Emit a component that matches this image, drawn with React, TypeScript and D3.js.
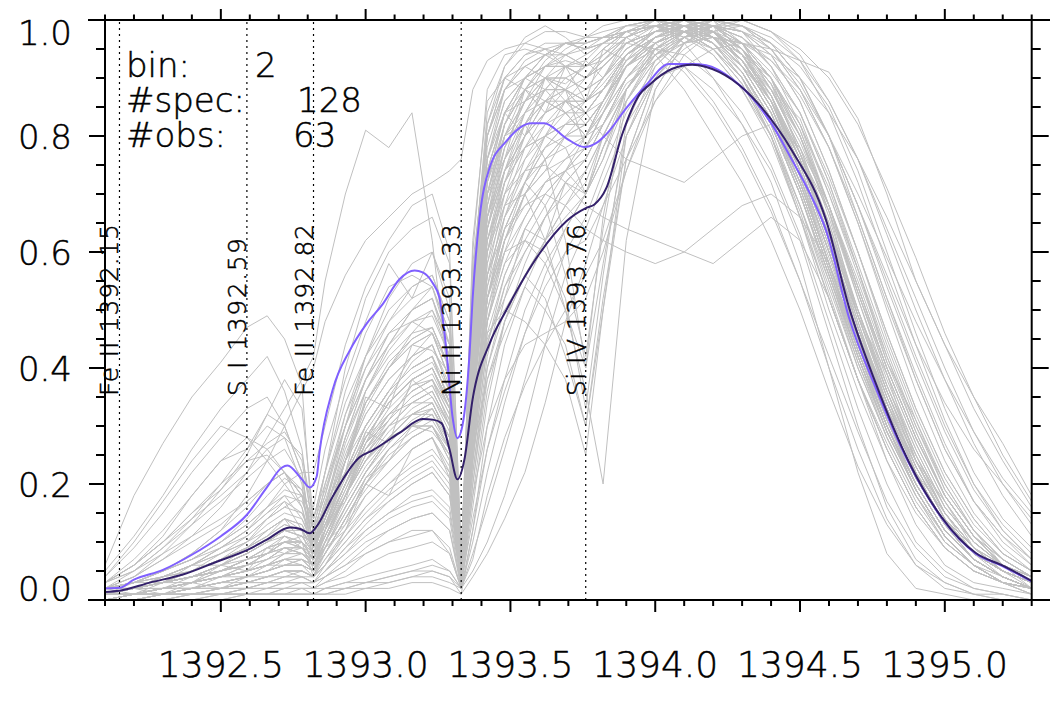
import { useEffect, useRef } from "react";
import * as d3 from "d3";

// wavelength grid (Angstrom) of the individual spectra
const WAVE = [
  1392.10, 1392.20, 1392.30, 1392.40, 1392.50, 1392.59, 1392.66, 1392.72, 1392.78,
  1392.82, 1392.86, 1392.93, 1393.00, 1393.08, 1393.16, 1393.23, 1393.29,
  1393.33, 1393.37, 1393.42, 1393.48, 1393.55, 1393.62, 1393.69, 1393.76, 1393.82, 1393.90,
  1394.00, 1394.10, 1394.20, 1394.30, 1394.40, 1394.50, 1394.60, 1394.70, 1394.80, 1394.90,
  1395.00, 1395.10, 1395.20, 1395.30,
];

// normalised intensity of each spectrum, in percent
const SPECTRA: number[][] = [
  [1,1,2,2,3,4,5,6,7, 5,8,14,20,26,30,33,28, 4,30,52,62,70,76,80,82,86,92, 96,98,97,93,86,74,60,44,30,19,11,6,3,2],
  [2,2,3,4,5,7,9,11,10, 7,12,20,28,34,38,40,34, 3,38,62,72,78,80,78,70,76,88, 95,99,100,96,88,78,64,48,34,22,13,8,5,3],
  [6,18,27,35,41,47,49,45,37, 10,20,30,38,44,50,52,42, 6,40,66,76,82,86,88,84,88,94, 98,100,98,94,86,76,64,50,36,24,15,9,6,4],
  [4,9,15,22,28,33,35,30,22, 8,14,24,34,40,46,50,44, 5,45,70,80,86,90,88,78,82,90, 96,98,96,90,80,66,52,38,26,16,9,5,3,2],
  [3,6,11,18,24,26,30,28,20, 6,10,18,26,32,36,38,30, 3,28,50,60,66,72,74,70,78,88, 94,97,98,95,89,80,68,54,40,28,18,11,7,4],
  [0,0,1,1,1,2,2,3,3, 3,6,12,18,22,26,28,22, 3,20,38,48,56,62,66,70,76,86, 93,97,99,98,94,86,74,60,45,32,21,13,8,5],
  [0,0,0,0,1,1,1,1,1, 1,1,2,2,3,4,5,4, 2,8,16,26,38,50,60,66,74,84, 92,97,100,99,95,88,78,65,50,36,24,15,9,5],
  [2,4,7,11,16,22,28,33,38, 42,55,70,81,78,84,62,36, 8,52,80,90,94,95,94,92,95,98, 99,98,95,90,82,70,56,42,30,20,12,7,4,2],
  [1,3,5,8,12,18,24,30,36, 40,48,56,62,66,70,72,74, 76,88,93,95,96,95,92,90,93,97, 99,100,98,95,90,82,70,56,42,30,20,12,7,4],
  [2,3,5,7,10,13,16,18,14, 9,14,24,32,38,42,44,36, 4,34,58,68,74,78,80,80,84,92, 97,99,98,94,87,76,62,47,34,23,14,8,5,3],
  [0,1,1,2,2,3,3,4,4, 3,5,9,13,17,20,22,18, 3,14,26,36,46,54,60,62,68,76, 86,92,95,96,95,93,91,83,70,55,44,35,27,18],
  [3,5,8,11,14,17,20,22,18, 10,16,28,38,46,50,52,44, 5,50,78,88,92,94,96,95,96,98, 99,96,90,82,72,58,40,22,8,2,1,0,0,0],
  [1,1,2,3,4,5,6,8,8, 6,10,18,24,30,34,36,30, 4,30,46,50,48,44,38,25,50,80, 92,97,98,94,86,74,60,45,32,21,13,8,5,3],
  [1,2,3,4,6,8,10,12,11, 8,12,22,30,36,40,42,36, 4,32,52,60,62,58,50,36,20,62, 88,96,99,96,90,80,66,50,36,24,15,9,6,3],
  [0,1,1,2,3,4,5,6,6, 5,8,14,20,25,28,30,26, 3,26,48,58,62,60,52,33,56,82, 93,98,99,95,87,76,62,47,33,22,13,8,5,3],
  [0,0,1,1,1,1,2,2,2, 2,3,5,8,10,12,12,8, 2,7,18,28,37,44,50,56,62,74, 86,94,98,99,96,90,80,66,52,38,26,17,11,7],
  [2,2,4,5,7,9,11,13,12, 8,12,20,28,34,38,40,33, 4,36,60,72,80,86,88,86,90,96, 99,100,97,91,82,70,55,40,28,18,10,6,3,2],
  [3,6,10,15,20,24,27,29,24, 12,18,32,42,50,54,56,48, 6,46,72,82,88,90,90,88,90,94, 97,99,98,93,85,74,60,45,32,21,13,7,4,2],
  [1,1,2,2,3,4,4,5,5, 4,7,12,16,20,24,26,22, 3,24,44,54,60,66,72,76,82,90, 96,99,99,96,90,80,67,52,38,26,16,10,6,3],
  [1,2,3,4,5,7,8,10,9, 6,10,18,25,30,34,36,30, 4,40,62,70,74,75,72,68,66,64, 62,60,58,62,66,62,52,38,24,13,6,3,2,1],
  [1,2,3,4,5,6,8,10,11, 10,14,22,30,36,42,46,40, 5,42,66,78,86,90,92,90,93,97, 100,99,96,90,80,66,50,36,24,15,9,5,3,2],
  [0,1,1,2,2,3,4,5,5, 4,6,10,14,17,20,22,18, 3,34,60,74,84,90,94,96,97,98, 99,98,96,92,86,76,63,49,35,24,15,9,5,3],
  [0,0,1,1,2,2,3,3,4, 3,4,6,8,10,11,12,9, 2,20,40,52,60,66,70,74,80,88, 95,98,99,97,92,84,72,57,42,29,18,11,6,4],
  [2,5,9,14,20,26,32,30,22, 9,15,26,34,40,44,46,38, 4,44,68,78,84,86,84,80,84,92, 97,99,97,92,84,72,58,43,30,20,12,7,4,2],
  [1,1,2,3,4,5,6,7,7, 6,9,16,22,28,32,34,28, 3,28,50,62,70,76,80,82,86,92, 96,99,100,99,96,90,80,68,56,44,34,26,20,14],
  [1,1,2,3,4,6,7,9,8, 6,9,16,22,28,32,34,28, 3,36,60,68,70,62,50,40,58,80, 90,92,88,82,74,62,46,30,16,7,3,1,1,0],
  [2,3,4,6,8,11,14,16,15, 10,16,28,38,46,50,52,44, 5,50,76,86,90,92,92,90,92,96, 98,99,97,92,84,73,60,46,33,22,13,8,4,2],
  [0,0,0,1,1,1,1,2,2, 2,2,3,4,5,6,7,5, 2,5,10,18,30,44,56,64,72,82, 90,95,98,100,98,93,84,72,58,44,31,20,12,7],
  [1,2,3,4,6,8,10,12,12, 9,13,22,30,36,40,42,34, 4,38,62,72,78,82,84,84,88,94, 98,100,98,93,85,73,58,43,30,19,11,6,3,2],
  [2,4,8,13,19,25,32,38,33, 14,20,32,40,46,48,46,38, 5,40,64,74,80,84,86,84,86,92, 96,98,96,91,83,71,57,42,29,19,11,6,3,2],
  [1,1,2,3,4,5,6,7,8, 7,12,24,36,44,50,54,46, 5,46,70,80,86,88,88,86,88,94, 97,99,98,94,87,77,64,49,35,23,14,8,5,3],
  [1,2,3,5,7,9,11,13,12, 9,13,22,30,36,40,42,34, 4,48,72,84,90,94,96,96,97,98, 96,92,86,78,68,55,40,26,14,6,2,1,0,0],
  [0,1,1,2,3,4,5,6,6, 5,8,14,20,24,28,30,25, 3,24,44,56,64,70,74,78,84,90, 95,98,100,99,97,93,86,76,64,52,40,29,20,13],
  [2,3,5,7,9,12,15,17,12, 5,12,24,34,40,44,46,38, 4,40,64,74,80,84,86,86,90,95, 98,99,97,92,84,72,58,44,31,20,12,7,4,2],
  [3,7,12,18,24,28,26,22,18, 10,14,22,28,32,34,34,28, 4,32,54,64,72,78,82,84,88,94, 97,99,98,94,87,76,62,47,34,23,14,8,5,3],
  [0,0,0,0,1,1,1,2,2, 2,3,4,6,8,9,10,8, 2,16,34,48,58,66,72,76,82,90, 96,99,99,96,90,81,68,53,39,27,17,10,6,3],
  [1,2,3,4,5,7,9,10,9, 7,11,18,26,32,36,38,32, 4,34,56,66,72,68,56,42,64,86, 95,98,98,94,86,75,61,46,33,22,13,8,5,3],
  [1,1,2,3,4,5,6,8,9, 8,11,18,24,28,30,30,24, 3,30,52,64,72,78,82,86,90,95, 98,99,96,90,81,68,53,38,26,16,9,5,3,1],
  [1,2,4,6,9,12,15,18,17, 12,18,30,40,48,54,56,48, 6,60,88,94,95,94,92,92,95,98, 99,99,96,91,83,72,58,44,31,20,12,7,4,2],
  [2,2,3,4,6,7,9,10,10, 8,11,18,24,29,33,35,29, 4,30,52,62,70,74,76,78,84,92, 97,100,99,95,88,78,65,50,37,25,16,10,6,4],
  [1,2,2,3,5,6,8,9,8, 6,11,19,27,35,41,44,37, 5,55,84,92,97,99,97,94,96,99, 100,98,94,88,79,66,52,38,27,17,10,6,4,2],
  [2,1,3,3,6,5,9,8,10, 7,13,17,29,27,38,35,30, 4,42,70,76,88,84,92,86,95,93, 99,97,100,94,90,77,67,49,39,24,17,9,6,2],
  [0,1,1,1,2,3,3,4,4, 3,5,8,12,15,18,19,16, 3,22,42,54,62,68,74,80,86,92, 97,99,100,98,96,92,85,74,60,46,33,22,14,9],
  [1,1,2,3,4,5,6,7,7, 6,9,15,21,26,30,32,26, 3,18,30,38,44,46,48,52,60,74, 88,96,99,98,94,86,74,60,46,33,22,14,8,5],
  [3,6,10,15,19,24,25,22,16, 7,16,30,42,52,58,60,52, 6,56,82,90,92,90,86,82,86,93, 97,98,95,89,80,67,52,38,26,16,9,5,3,1],
  [2,3,5,8,12,16,20,22,19, 12,22,40,52,60,64,66,58, 8,58,80,88,90,88,84,80,82,88, 94,97,95,90,82,70,56,42,29,19,11,6,3,2],
  [0,0,0,1,1,1,1,1,2, 1,2,3,3,4,5,5,4, 1,4,8,14,22,34,48,58,68,80, 90,96,99,99,96,90,80,68,54,41,29,19,12,7],
  [1,2,1,3,2,4,5,7,6, 4,9,12,20,18,26,28,21, 3,28,45,52,64,62,72,70,80,88, 95,98,97,96,88,83,70,57,41,31,19,12,6,4],
  [1,2,3,4,6,8,10,11,10, 7,12,20,28,34,38,40,34, 4,48,72,80,82,76,62,40,66,88, 96,99,98,93,85,73,58,43,30,20,12,7,4,2],
  [2,2,3,5,7,9,12,14,13, 9,14,24,33,40,45,47,40, 5,56,82,92,96,98,98,97,97,97, 94,88,80,72,62,50,36,23,13,6,3,1,0,0],
  [1,1,2,2,3,4,5,6,6, 5,8,14,20,26,30,32,27, 3,26,46,56,64,70,74,78,84,90, 94,96,97,96,94,90,84,76,66,55,44,33,24,16],
  [5,11,18,26,33,38,42,36,26, 11,16,24,30,36,40,42,34, 5,38,60,70,76,80,82,82,86,92, 96,98,96,91,83,72,58,44,31,21,13,8,5,3],
  [0,1,1,1,2,2,3,3,3, 3,5,9,12,15,17,18,15, 3,40,68,82,90,94,96,96,97,98, 99,98,95,90,82,71,57,43,30,20,12,7,4,2],
  [1,2,3,4,6,8,10,12,11, 8,12,20,28,34,38,40,34, 4,36,56,64,68,70,68,64,62,60, 58,60,64,68,70,66,58,46,34,23,14,8,5,3],
  [2,3,3,6,6,9,11,14,12, 9,17,22,35,33,44,43,39, 6,50,74,84,80,90,88,93,90,97, 100,96,99,92,87,74,63,47,35,22,15,8,5,2],
  [1,2,3,5,7,9,12,14,10, 4,10,18,24,28,30,30,24, 3,30,52,64,72,76,78,80,86,93, 97,99,98,94,87,76,62,47,34,23,14,8,5,3],
  [0,0,1,1,1,2,2,2,3, 2,4,6,9,12,14,15,12, 2,12,26,38,50,58,64,70,78,86, 94,98,100,100,98,94,86,76,63,50,38,27,18,11],
  [1,2,3,4,5,7,8,10,10, 8,12,19,26,31,35,37,31, 5,62,86,90,88,86,84,80,86,94, 98,99,97,92,84,72,58,43,30,19,11,6,3,2],
  [4,10,17,24,30,28,24,20,16, 9,13,20,26,30,32,32,26, 4,28,48,58,66,72,76,80,85,92, 96,98,97,93,86,75,61,46,33,22,13,8,5,3],
  [1,2,4,6,9,12,16,20,22, 22,30,44,54,62,68,70,60, 8,50,74,84,88,90,90,88,90,95, 98,99,97,92,84,73,59,45,32,21,13,7,4,2],
  [0,0,0,0,0,1,1,1,1, 1,1,2,3,4,5,6,5, 2,10,22,34,46,56,64,70,78,86, 93,97,99,98,95,89,80,68,55,42,30,20,13,8],
  [1,1,2,3,4,6,7,9,9, 7,11,18,25,30,34,36,30, 4,40,64,74,80,84,86,86,89,94, 98,100,98,93,85,74,60,45,32,21,13,7,4,2],
  [2,3,4,6,8,10,13,15,14, 10,15,25,34,41,45,47,40, 5,44,66,74,78,80,82,82,86,92, 95,94,90,84,75,63,48,33,20,10,5,2,1,0],
  [1,1,2,2,4,4,6,6,7, 5,10,13,21,24,30,29,25, 3,26,38,46,54,50,44,30,52,76, 90,96,99,95,89,77,65,49,36,24,15,9,5,3],
  [2,3,5,7,10,13,16,19,18, 14,22,36,46,54,56,54,44, 6,52,76,84,86,88,88,86,88,94, 97,98,96,91,83,71,57,42,29,19,11,6,3,2],
  [1,1,2,3,4,5,6,7,7, 6,9,16,22,28,32,34,28, 3,30,52,62,68,72,74,76,82,89, 93,96,97,96,93,88,80,70,59,48,38,29,21,15],
  [0,0,1,1,1,2,2,3,3, 3,4,7,10,12,14,15,12, 3,46,76,88,92,94,94,92,93,96, 98,99,97,93,86,76,62,47,33,22,13,8,5,3],
  [1,2,3,4,5,7,8,10,10, 8,12,20,27,32,36,38,32, 4,34,56,66,74,80,84,86,88,92, 95,97,99,98,92,82,68,52,37,25,15,9,5,3],
  [0,1,1,2,2,3,4,5,5, 4,6,11,16,20,23,25,21, 3,22,40,50,56,52,42,30,50,76, 90,96,98,96,90,81,68,53,39,27,17,10,6,3],
  [2,4,7,10,13,17,20,22,18, 8,14,24,32,38,42,44,36, 4,42,66,76,82,86,86,84,88,94, 97,99,98,93,85,74,60,45,32,21,13,7,4,2],
  [1,2,2,4,5,7,8,11,9, 6,12,18,27,31,37,38,33, 4,44,68,80,84,90,89,92,94,98, 99,100,97,95,86,77,62,48,33,24,14,9,5,3],
  [0,1,1,2,2,3,4,4,5, 4,7,11,15,19,22,24,20, 3,36,64,78,86,92,95,97,99,100, 100,99,97,93,88,80,68,54,40,28,18,11,7,4],
  [2,3,4,6,9,11,14,17,15, 11,17,28,36,42,46,47,40, 5,52,80,88,93,95,96,95,97,99, 100,98,95,89,80,68,54,40,28,18,11,6,3,2],
  [1,1,2,3,4,5,7,8,8, 6,10,16,22,27,31,33,27, 3,30,56,70,80,86,90,92,95,98, 100,100,99,96,91,84,73,60,46,33,22,14,8,5],
  [3,5,9,13,17,21,24,26,21, 9,15,27,36,43,48,50,42, 5,48,74,84,90,92,93,92,94,97, 99,99,96,91,83,71,57,43,30,20,12,7,4,2],
  [0,0,1,1,2,2,3,3,3, 3,5,8,11,14,16,17,14, 2,24,48,62,72,80,86,90,94,97, 99,100,99,97,93,87,78,66,52,39,27,17,11,6],
  [0,0,0,1,1,1,1,1,1, 1,2,2,3,3,4,4,3, 2,18,36,48,56,62,68,72,80,88, 95,98,99,97,92,84,72,58,44,31,20,12,7,4],
  [1,2,3,5,8,10,14,16,18, 16,26,38,48,58,52,60,50, 7,46,70,82,88,92,92,90,92,96, 98,99,96,91,83,72,58,44,31,20,12,7,4,2],
  [1,1,2,2,3,3,4,5,5, 4,8,14,19,24,28,30,25, 3,40,66,80,88,93,96,97,98,99, 99,97,94,88,80,68,55,41,29,19,11,6,3,2],
  [2,2,4,5,7,10,12,14,13, 9,13,21,29,35,39,41,35, 4,38,62,74,82,88,92,94,96,98, 100,99,97,94,88,79,67,53,40,28,18,11,6,3],
  [1,2,3,4,5,6,7,9,8, 6,10,17,23,28,32,33,28, 3,34,58,72,82,88,92,93,96,99, 100,100,98,94,87,77,64,50,37,26,16,10,6,3],
  [0,1,1,2,2,3,4,5,4, 4,6,10,14,18,21,23,19, 3,26,48,60,70,74,80,84,88,93, 96,98,99,100,98,95,90,82,71,59,46,35,25,17],
  [1,2,3,4,5,7,9,10,10, 8,12,20,27,33,37,39,33, 4,40,64,76,84,88,88,84,80,76, 74,72,76,80,82,78,68,55,41,29,18,11,6,3],
  [2,3,5,7,10,14,18,21,19, 13,19,30,38,44,48,49,42, 5,54,80,90,94,96,96,95,96,98, 99,98,95,90,82,70,56,41,28,18,10,6,3,1],
  [1,2,3,4,6,8,10,12,11, 8,12,20,28,34,38,40,33, 4,44,70,82,88,92,94,95,96,96, 95,91,85,77,67,55,42,29,17,9,4,2,1,0],
  [0,0,0,0,0,1,1,1,1, 1,1,1,2,2,3,3,2, 1,12,30,44,54,62,68,74,80,88, 94,98,100,99,95,88,78,65,51,38,26,17,10,6],
  [1,1,2,3,5,6,8,9,9, 7,11,18,25,31,35,37,31, 4,46,72,84,90,94,96,96,97,99, 100,99,97,93,86,76,63,49,36,25,15,9,5,3],
  [3,6,10,14,18,22,26,28,25, 14,22,34,42,48,52,54,46, 6,50,76,86,90,92,92,90,92,96, 98,98,95,90,82,70,56,42,29,19,11,6,3,2],
  [1,1,2,3,4,5,6,7,7, 5,9,15,21,26,29,31,26, 3,30,54,68,78,84,88,90,93,97, 99,100,99,95,89,80,68,54,40,28,18,11,6,4],
  [0,1,1,2,3,4,5,6,6, 5,8,13,18,22,26,28,23, 3,28,52,66,76,82,86,88,92,96, 98,99,98,95,90,82,71,57,43,30,19,12,7,4],
];

// averaged profiles [wavelength, percent]
const MEAN_LIGHT: [number, number][] = [
  [1392.10, 2.0], [1392.15, 2.1], [1392.20, 3.5], [1392.30, 5.2], [1392.40, 7.8], [1392.50, 11.0],
  [1392.59, 14.7], [1392.66, 19.5], [1392.71, 22.8], [1392.73, 23.2], [1392.78, 20.8], [1392.807, 19.4],
  [1392.831, 21.3], [1392.841, 25.6], [1392.886, 36.2], [1392.945, 43.0], [1393.003, 47.6], [1393.059, 51.0],
  [1393.117, 55.3], [1393.169, 56.8], [1393.197, 56.5], [1393.231, 54.7], [1393.255, 52.1], [1393.279, 43.0],
  [1393.30, 31.6], [1393.317, 27.9], [1393.334, 30.0], [1393.359, 42.6], [1393.369, 51.6], [1393.393, 65.7],
  [1393.428, 74.5], [1393.486, 79.1], [1393.572, 82.2], [1393.617, 82.2], [1393.693, 79.6], [1393.755, 78.1],
  [1393.797, 78.8], [1393.831, 80.3], [1393.90, 84.8], [1393.969, 88.8], [1394.048, 92.4], [1394.128, 92.4],
  [1394.176, 92.2], [1394.266, 89.8], [1394.348, 85.8], [1394.403, 82.0], [1394.472, 75.9], [1394.531, 70.4],
  [1394.59, 63.7], [1394.669, 48.7], [1394.762, 36.5], [1394.876, 23.6], [1394.99, 14.1], [1395.107, 8.0],
  [1395.197, 5.9], [1395.30, 3.2],
];

const MEAN_DARK: [number, number][] = [
  [1392.10, 1.4], [1392.15, 1.6], [1392.255, 3.0], [1392.369, 4.4], [1392.486, 6.6], [1392.59, 8.6],
  [1392.659, 10.4], [1392.738, 12.5], [1392.772, 12.3], [1392.807, 11.5], [1392.831, 12.7], [1392.886, 17.8],
  [1392.979, 24.6], [1393.024, 25.8], [1393.117, 28.8], [1393.197, 31.2], [1393.231, 31.1], [1393.262, 30.5],
  [1393.29, 25.9], [1393.317, 20.8], [1393.341, 24.2], [1393.369, 34.5], [1393.428, 44.2], [1393.486, 50.0],
  [1393.60, 59.7], [1393.693, 65.3], [1393.762, 67.6], [1393.79, 68.2], [1393.831, 71.0], [1393.886, 80.3],
  [1393.945, 87.1], [1393.979, 88.8], [1394.059, 91.6], [1394.128, 92.3], [1394.176, 91.9], [1394.266, 89.7],
  [1394.359, 85.4], [1394.472, 77.5], [1394.59, 65.5], [1394.669, 50.5], [1394.762, 37.3], [1394.876, 23.8],
  [1394.99, 14.2], [1395.107, 8.1], [1395.197, 6.0], [1395.30, 3.3],
];

const LINE_IDS = [
  { label: "Fe II 1392.15", wave: 1392.15, len: 172 },
  { label: "S I 1392.59", wave: 1392.59, len: 158 },
  { label: "Fe II 1392.82", wave: 1392.82, len: 172 },
  { label: "Ni II 1393.33", wave: 1393.33, len: 172 },
  { label: "Si IV 1393.76", wave: 1393.76, len: 172 },
];

const X_TICKS = [1392.5, 1393.0, 1393.5, 1394.0, 1394.5, 1395.0];
const Y_TICKS = [0, 0.2, 0.4, 0.6, 0.8, 1.0];
const INFO = [
  { key: "bin:", value: "2", vx: 255 },
  { key: "#spec:", value: "128", vx: 297 },
  { key: "#obs:", value: "63", vx: 293 },
];

const FONT = "'DejaVu Sans', sans-serif";

export default function App() {
  const svgRef = useRef<SVGSVGElement>(null);

  useEffect(() => {
    if (!svgRef.current) return;
    document.body.style.margin = "0";
    const svg = d3.select(svgRef.current);
    svg.selectAll("*").remove();

    const left = 105, right = 1031.7, top = 20, bottom = 600;
    const x = d3.scaleLinear().domain([1392.1, 1395.3]).range([left, right]);
    const y = d3.scaleLinear().domain([0, 100]).range([bottom, top]);

    svg.append("defs").append("clipPath").attr("id", "plot")
      .append("rect").attr("x", left).attr("y", top - 1)
      .attr("width", right - left).attr("height", bottom - top + 1);

    const data = svg.append("g").attr("clip-path", "url(#plot)");

    const grayLine = d3.line<number>()
      .x((_, i) => x(WAVE[i]))
      .y(d => y(d));

    data.selectAll(".spec")
      .data(SPECTRA)
      .enter()
      .append("path")
      .attr("class", "spec")
      .attr("d", d => grayLine(d))
      .style("fill", "none")
      .style("stroke", "#c0c0c0")
      .style("stroke-width", 1);

    // line identifications
    LINE_IDS.forEach(l => {
      data.append("line")
        .attr("x1", x(l.wave)).attr("x2", x(l.wave))
        .attr("y1", bottom).attr("y2", top)
        .style("stroke", "#000")
        .style("stroke-width", 1.2)
        .style("stroke-dasharray", "2,4");
    });

    const meanLine = d3.line<[number, number]>()
      .x(d => x(d[0]))
      .y(d => y(d[1]))
      .curve(d3.curveMonotoneX);

    data.append("path")
      .attr("d", meanLine(MEAN_LIGHT))
      .style("fill", "none")
      .style("stroke", "#7f5fff")
      .style("stroke-width", 2);

    data.append("path")
      .attr("d", meanLine(MEAN_DARK))
      .style("fill", "none")
      .style("stroke", "#33206a")
      .style("stroke-width", 2);

    // thin vector-like lettering
    const label = (sel: d3.Selection<SVGTextElement, unknown, null, undefined>, size: number) =>
      sel.style("font-family", FONT)
        .style("font-weight", 200)
        .style("font-size", `${size}px`)
        .style("fill", "#000")
        .style("stroke", "#000")
        .style("stroke-width", 0.5);

    LINE_IDS.forEach(l => {
      label(svg.append("text")
        .attr("transform", `translate(${x(l.wave) - 1},396) rotate(-90)`)
        .attr("textLength", l.len)
        .attr("lengthAdjust", "spacing"), 25)
        .text(l.label);
    });

    // axes box
    const axis = svg.append("g").style("stroke", "#000").style("stroke-width", 2);
    axis.append("line").attr("x1", 88).attr("x2", 1050).attr("y1", bottom).attr("y2", bottom);
    axis.append("line").attr("x1", 88).attr("x2", 1050).attr("y1", top).attr("y2", top);
    axis.append("line").attr("x1", left).attr("x2", left).attr("y1", top).attr("y2", bottom);
    axis.append("line").attr("x1", right).attr("x2", right).attr("y1", top).attr("y2", bottom);

    const xMinor = d3.range(0, 33).map(i => 1392.1 + i * 0.1);
    xMinor.forEach(w => {
      const major = X_TICKS.some(t => Math.abs(t - w) < 1e-6);
      const px = x(w);
      axis.append("line").attr("x1", px).attr("x2", px)
        .attr("y1", bottom).attr("y2", bottom + (major ? 12 : 6));
      axis.append("line").attr("x1", px).attr("x2", px)
        .attr("y1", top).attr("y2", top - (major ? 11 : 5.5));
    });

    const yMinor = d3.range(0, 21).map(i => i * 0.05);
    yMinor.forEach(v => {
      const major = Y_TICKS.some(t => Math.abs(t - v) < 1e-6);
      const py = y(v * 100);
      axis.append("line").attr("x1", left).attr("x2", left - (major ? 16 : 9))
        .attr("y1", py).attr("y2", py);
      axis.append("line").attr("x1", right).attr("x2", right + (major ? 17 : 9))
        .attr("y1", py).attr("y2", py);
    });

    X_TICKS.forEach(t => {
      label(svg.append("text")
        .attr("x", x(t))
        .attr("y", 677)
        .attr("text-anchor", "middle"), 36)
        .text(d3.format(".1f")(t));
    });

    Y_TICKS.forEach(t => {
      let base = y(t * 100) + 13;
      if (t === 1.0) base = 45;
      if (t === 0) base = 601;
      label(svg.append("text")
        .attr("x", 72)
        .attr("y", base)
        .attr("text-anchor", "end"), 34)
        .text(d3.format(".1f")(t));
    });

    INFO.forEach((row, i) => {
      const base = 77 + i * 35;
      label(svg.append("text").attr("x", 126).attr("y", base), 34).text(row.key);
      label(svg.append("text").attr("x", row.vx).attr("y", base), 34).text(row.value);
    });
  }, []);

  return (
    <svg
      ref={svgRef}
      width={1062}
      height={707}
      style={{ display: "block", background: "#fff" }}
    />
  );
}
